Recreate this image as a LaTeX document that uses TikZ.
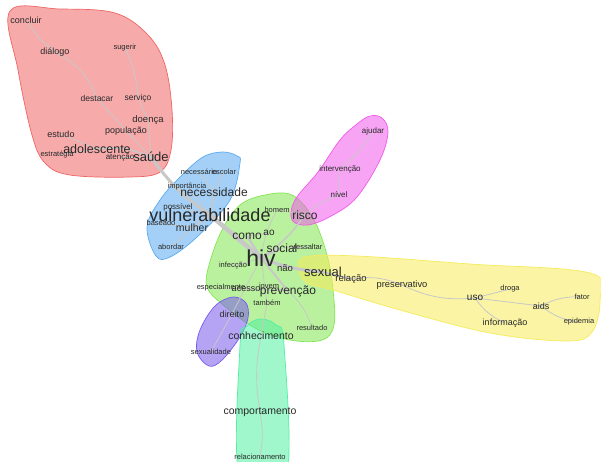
\documentclass[tikz,border=0pt]{standalone}
\usepackage{fontspec}
\setmainfont{Liberation Sans}
\pgfdeclarelayer{bg}
\pgfdeclarelayer{edges}
\pgfsetlayers{bg,edges,main}
\definecolor{txt}{RGB}{40,40,40}
\definecolor{cred}{RGB}{240,100,100}
\definecolor{cblue}{RGB}{90,170,240}
\definecolor{cgreen}{RGB}{130,230,80}
\definecolor{cpink}{RGB}{240,90,235}
\definecolor{cyellow}{RGB}{245,235,90}
\definecolor{cpurple}{RGB}{120,90,235}
\definecolor{cteal}{RGB}{80,240,160}
\definecolor{edgec}{RGB}{200,200,200}
\tikzset{
  w/.style={font=\fontsize{#1}{#1}\selectfont, text=txt, inner sep=0pt},
  halo/.style={draw=#1, line width=0.7pt, fill=#1, fill opacity=0.55},
  ed/.style={draw=edgec, line width=#1},
  ed/.default=0.8pt
}
\begin{document}
\begin{tikzpicture}[x=1pt,y=-1pt]
\useasboundingbox (0,0) rectangle (601,461);
% red
\node[w=9] (concluir) at (26,20) {concluir};
\node[w=9] (dialogo) at (55,52) {diálogo};
\node[w=7.5] (sugerir) at (125,48) {sugerir};
\node[w=8.5] (destacar) at (97,98) {destacar};
\node[w=8.5] (servico) at (138,98) {serviço};
\node[w=9.5] (doenca) at (148,120) {doença};
\node[w=9] (populacao) at (126,131) {população};
\node[w=9] (estudo) at (61,134) {estudo};
\node[w=12.5] (adolescente) at (97,149) {adolescente};
\node[w=7.5] (estrategia) at (57,155) {estratégia};
\node[w=8] (atencao) at (120,157) {atenção};
\node[w=13] (saude) at (151,157) {saúde};
% blue
\node[w=7.5] (necessario) at (199,172) {necessário};
\node[w=7.5] (escolar) at (224,172) {escolar};
\node[w=7.5] (importancia) at (187,187) {importância};
\node[w=12] (necessidade) at (214,192) {necessidade};
\node[w=8] (possivel) at (178,207) {possível};
\node[w=18] (vulnerabilidade) at (210,215) {vulnerabilidade};
\node[w=7.5] (baseado) at (161,223) {baseado};
\node[w=10.5] (mulher) at (192,228) {mulher};
\node[w=7.5] (abordar) at (171,247) {abordar};
% green
\node[w=7.5] (homem) at (277,210) {homem};
\node[w=12] (risco) at (305,215) {risco};
\node[w=12] (como) at (247,236) {como};
\node[w=10] (ao) at (269,233) {ao};
\node[w=12] (social) at (282,248) {social};
\node[w=7.5] (ressaltar) at (308,247) {ressaltar};
\node[w=23] (hiv) at (261,258) {hiv};
\node[w=7.5] (infeccao) at (233,266) {infecção};
\node[w=9.5] (nao) at (285,268) {não};
\node[w=13] (sexual) at (323,272) {sexual};
\node[w=7.5] (especialmente) at (221,288) {especialmente};
\node[w=9] (acesso) at (246,289) {acesso};
\node[w=7.5] (jovem) at (269,287) {jovem};
\node[w=12] (prevencao) at (288,291) {prevenção};
\node[w=7.5] (tambem) at (267,303) {também};
\node[w=9] (direito) at (232,314) {direito};
\node[w=7.5] (resultado) at (312,328) {resultado};
\node[w=10.5] (conhecimento) at (261,336) {conhecimento};
\node[w=7.5] (sexualidade) at (211,352) {sexualidade};
% pink
\node[w=8] (ajudar) at (373,131) {ajudar};
\node[w=8] (intervencao) at (340,169) {intervenção};
\node[w=8] (nivel) at (339,195) {nível};
% yellow
\node[w=9.5] (relacao) at (351,279) {relação};
\node[w=9.3] (preservativo) at (402,285) {preservativo};
\node[w=10] (uso) at (475,298) {uso};
\node[w=7.5] (droga) at (510,289) {droga};
\node[w=9] (aids) at (541,306) {aids};
\node[w=7.5] (fator) at (582,297) {fator};
\node[w=9] (informacao) at (505,323) {informação};
\node[w=7.5] (epidemia) at (579,322) {epidemia};
% teal
\node[w=10.5] (comportamento) at (260,412) {comportamento};
\node[w=7.5] (relacionamento) at (260,457) {relacionamento};

\begin{pgfonlayer}{bg}
\begin{scope}
\clip (0,0) rectangle (601,461);
\path[halo=cred] plot[smooth cycle, tension=0.6] coordinates {(10,11) (60,9) (115,13) (148,35) (165,65) (172,110) (171,150) (160,172) (130,177) (70,175) (45,163) (32,135) (18,70)};
\path[halo=cblue] plot[smooth cycle, tension=0.6] coordinates {(240,163) (230,200) (197,237) (170,257) (156,256) (147,227) (160,200) (180,177) (203,157) (223,152) (237,156)};
\path[halo=cgreen] plot[smooth cycle, tension=0.6] coordinates {(240,205) (265,195) (292,195) (313,218) (327,255) (333,290) (334,325) (322,340) (290,340) (255,328) (222,304) (207,287) (209,265) (222,230)};
\path[halo=cpink] plot[smooth cycle, tension=0.6] coordinates {(370,116) (382,118) (388,132) (380,160) (357,197) (333,215) (308,225) (292,220) (295,200) (318,172) (340,140) (357,124)};
\path[halo=cyellow] plot[smooth cycle, tension=0.6] coordinates {(305,257) (357,256) (470,264) (590,273) (600,300) (592,332) (567,341) (490,333) (400,310) (333,290) (307,283) (299,270)};
\path[halo=cpurple] plot[smooth cycle, tension=0.6] coordinates {(233,297) (246,303) (248,318) (240,337) (222,360) (209,366) (197,352) (200,330) (215,306)};
\path[halo=cteal] plot[smooth cycle, tension=0.6] coordinates {(260,319) (276,325) (284,345) (286,480) (240,480) (240,345) (246,327)};
\end{scope}
\end{pgfonlayer}

\begin{pgfonlayer}{edges}
\draw[ed] (concluir.center) to[bend right=10] (dialogo.center);
\draw[ed] (dialogo.center) to[bend left=20] (destacar.center);
\draw[ed] (destacar.center) -- (populacao.center);
\draw[ed] (populacao.center) -- (saude.center);
\draw[ed] (sugerir.center) to[bend left=10] (servico.center);
\draw[ed] (servico.center) -- (doenca.center);
\draw[ed] (doenca.center) -- (saude.center);
\draw[ed] (estudo.center) -- (adolescente.center);
\draw[ed] (estrategia.center) -- (adolescente.center);
\draw[ed=1.5pt] (adolescente.center) to[bend left=15] (saude.center);
\draw[ed] (atencao.center) -- (saude.center);
\draw[ed=3pt] (saude.center) to[bend right=10] (vulnerabilidade.center);
\draw[ed] (necessario.center) -- (necessidade.center);
\draw[ed] (escolar.center) -- (necessidade.center);
\draw[ed] (importancia.center) -- (vulnerabilidade.center);
\draw[ed=1.5pt] (necessidade.center) -- (vulnerabilidade.center);
\draw[ed] (possivel.center) -- (vulnerabilidade.center);
\draw[ed] (baseado.center) -- (mulher.center);
\draw[ed=1.5pt] (mulher.center) -- (vulnerabilidade.center);
\draw[ed] (abordar.center) -- (mulher.center);
\draw[ed=4.5pt] (vulnerabilidade.center) -- (hiv.center);
\draw[ed=2.5pt] (hiv.center) -- (como.center);
\draw[ed] (como.center) -- (ao.center);
\draw[ed=2pt] (hiv.center) -- (social.center);
\draw[ed] (social.center) -- (ressaltar.center);
\draw[ed] (hiv.center) to[bend left=10] (homem.center);
\draw[ed=1.5pt] (hiv.center) to[bend right=10] (risco.center);
\draw[ed] (homem.center) -- (risco.center);
\draw[ed] (hiv.center) -- (infeccao.center);
\draw[ed=1.5pt] (hiv.center) -- (nao.center);
\draw[ed=3pt] (hiv.center) to[bend right=8] (sexual.center);
\draw[ed=2pt] (hiv.center) -- (prevencao.center);
\draw[ed] (prevencao.center) -- (acesso.center);
\draw[ed] (especialmente.center) -- (acesso.center);
\draw[ed] (jovem.center) -- (prevencao.center);
\draw[ed] (prevencao.center) to[bend left=15] (resultado.center);
\draw[ed] (hiv.center) -- (tambem.center);
\draw[ed] (tambem.center) -- (conhecimento.center);
\draw[ed] (hiv.center) -- (direito.center);
\draw[ed] (direito.center) -- (sexualidade.center);
\draw[ed] (conhecimento.center) to[bend right=10] (comportamento.center);
\draw[ed] (comportamento.center) to[bend left=10] (relacionamento.center);
\draw[ed] (risco.center) to[bend left=10] (nivel.center);
\draw[ed] (nivel.center) -- (intervencao.center);
\draw[ed] (intervencao.center) to[bend right=10] (ajudar.center);
\draw[ed=1.5pt] (sexual.center) -- (relacao.center);
\draw[ed] (relacao.center) to[bend left=15] (preservativo.center);
\draw[ed] (preservativo.center) to[bend right=15] (uso.center);
\draw[ed] (uso.center) -- (droga.center);
\draw[ed] (uso.center) to[bend right=15] (informacao.center);
\draw[ed] (uso.center) -- (aids.center);
\draw[ed] (aids.center) to[bend left=15] (fator.center);
\draw[ed] (aids.center) to[bend right=15] (epidemia.center);
\end{pgfonlayer}
\end{tikzpicture}
\end{document}
